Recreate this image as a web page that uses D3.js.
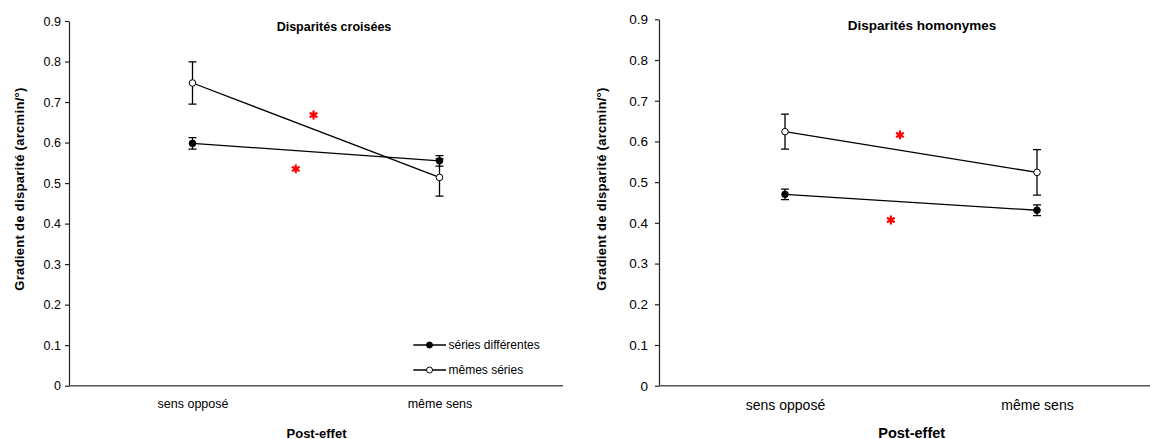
<!DOCTYPE html>
<html><head><meta charset="utf-8">
<script src="https://cdn.jsdelivr.net/npm/d3@7"></script>
<style>
body{margin:0;background:#fff}
svg{display:block}
text{font-family:"Liberation Sans",Arial,sans-serif;fill:#000}
</style>
</head><body>
<svg id="chart" width="1150" height="439"></svg>
<script>
// ---- data ----
const categories = ["sens opposé", "même sens"];
const yTickValues = [0, 0.1, 0.2, 0.3, 0.4, 0.5, 0.6, 0.7, 0.8, 0.9];
const yTickLabels = ["0", "0.1", "0.2", "0.3", "0.4", "0.5", "0.6", "0.7", "0.8", "0.9"];
const seriesNames = ["séries différentes", "mêmes séries"];
const panelTitles = ["Disparités croisées", "Disparités homonymes"];
const yAxisTitle = "Gradient de disparité (arcmin/°)";
const xAxisTitle = "Post-effet";

// Disparités croisées
const crossDiff = [0.598, 0.555];
const crossDiffErr = [0.014, 0.013];
const crossSame = [0.747, 0.514];
const crossSameErr = [0.052, 0.046];
const crossStarPos = [0.49, 0.418];   // position between the two categories (0..1)
const crossStarVal = [0.668, 0.535];

// Disparités homonymes
const homoDiff = [0.470, 0.431];
const homoDiffErr = [0.013, 0.013];
const homoSame = [0.624, 0.524];
const homoSameErr = [0.043, 0.056];
const homoStarPos = [0.456, 0.42];
const homoStarVal = [0.616, 0.407];

// ---- layout ----
const svg = d3.select("#chart");
const panels = [
  {title: panelTitles[0], diff: crossDiff, diffErr: crossDiffErr, same: crossSame, sameErr: crossSameErr,
   starPos: crossStarPos, starVal: crossStarVal,
   x0: 69, x1: 563, yTop: 21, yBottom: 385.7, tickFont: 12.5, catFont: 12.5, titleFont: 12.5,
   catPad: 13.7, titleX: 334, titleY: 31, yTitleX: 24, xTitleFont: 13, xTitleX: 316.5, legend: true},
  {title: panelTitles[1], diff: homoDiff, diffErr: homoDiffErr, same: homoSame, sameErr: homoSameErr,
   starPos: homoStarPos, starVal: homoStarVal,
   x0: 659, x1: 1163, yTop: 19.3, yBottom: 385.7, tickFont: 13.5, catFont: 14, titleFont: 13.5,
   catPad: 14.5, titleX: 922, titleY: 30, yTitleX: 606, xTitleFont: 14.5, xTitleX: 911.7, legend: false}
];

panels.forEach(p => {
  const g = svg.append("g");
  const x = d3.scalePoint().domain(categories).range([p.x0, p.x1]).padding(0.5);
  const xBetween = d3.scaleLinear().domain([0, 1]).range([x(categories[0]), x(categories[1])]);
  const y = d3.scaleLinear().domain([0, 0.9]).range([p.yBottom, p.yTop]);

  // y axis
  const ya = g.append("g").attr("transform", `translate(${p.x0},0)`)
    .call(d3.axisLeft(y).tickValues(yTickValues).tickFormat((d, i) => yTickLabels[i])
      .tickSizeInner(4).tickSizeOuter(0).tickPadding(p.x0 > 600 ? 7 : 4));
  ya.select(".domain").attr("stroke", "#222").attr("stroke-width", 1.2);
  ya.selectAll(".tick line").attr("stroke", "#222").attr("stroke-width", 1.2);
  ya.selectAll(".tick text").attr("font-size", p.tickFont).attr("fill", "#222")
    .style("font-family", "'Liberation Sans',Arial,sans-serif");

  // x axis
  const xa = g.append("g").attr("transform", `translate(0,${p.yBottom})`)
    .call(d3.axisBottom(x).tickSize(0).tickPadding(p.catPad));
  xa.select(".domain").attr("d", `M${p.x0},0H${p.x1}`).attr("stroke", "#555").attr("stroke-width", 1.5);
  xa.selectAll(".tick text").attr("font-size", p.catFont).attr("fill", "#111")
    .style("font-family", "'Liberation Sans',Arial,sans-serif");

  // titles
  g.append("text").attr("x", p.titleX).attr("y", p.titleY).attr("text-anchor", "middle")
    .attr("font-size", p.titleFont).attr("font-weight", "bold").text(p.title);
  g.append("text").attr("transform", `translate(${p.yTitleX},189) rotate(-90)`)
    .attr("text-anchor", "middle").attr("font-size", 13).attr("font-weight", "bold")
    .attr("letter-spacing", 0.3).text(yAxisTitle);
  g.append("text").attr("x", p.xTitleX).attr("y", 437.5).attr("text-anchor", "middle")
    .attr("font-size", p.xTitleFont).attr("font-weight", "bold").text(xAxisTitle);

  // series
  const series = [
    {vals: p.diff, errs: p.diffErr, fill: "#000"},
    {vals: p.same, errs: p.sameErr, fill: "#fff"}
  ];
  series.forEach(s => {
    const pts = categories.map((c, i) => ({c, v: s.vals[i], e: s.errs[i]}));
    // error bars
    pts.forEach(d => {
      const cx = x(d.c);
      g.append("path")
        .attr("d", `M${cx},${y(d.v + d.e)}V${y(d.v - d.e)}M${cx - 4},${y(d.v + d.e)}H${cx + 4}M${cx - 4},${y(d.v - d.e)}H${cx + 4}`)
        .attr("stroke", "#000").attr("stroke-width", 1.3).attr("fill", "none");
    });
    g.append("path").datum(pts)
      .attr("d", d3.line().x(d => x(d.c)).y(d => y(d.v)))
      .attr("stroke", "#000").attr("stroke-width", 1.3).attr("fill", "none");
    g.selectAll(null).data(pts).enter().append("circle")
      .attr("cx", d => x(d.c)).attr("cy", d => y(d.v)).attr("r", 3.3)
      .attr("fill", s.fill).attr("stroke", "#000").attr("stroke-width", 1);
  });

  // significance stars
  const star = d3.symbol().type(d3.symbolAsterisk).size(55);
  p.starPos.forEach((sp, i) => {
    g.append("path").attr("d", star)
      .attr("transform", `translate(${xBetween(sp)},${y(p.starVal[i])})`)
      .attr("stroke", "#ff0000").attr("stroke-width", 2.2).attr("fill", "none");
  });

  // legend
  if (p.legend) {
    const lx0 = 413.3, lx1 = 446, lxm = 429.5;
    const rows = [{name: seriesNames[0], fill: "#000", yy: 345}, {name: seriesNames[1], fill: "#fff", yy: 370}];
    rows.forEach(r => {
      g.append("line").attr("x1", lx0).attr("x2", lx1).attr("y1", r.yy).attr("y2", r.yy)
        .attr("stroke", "#000").attr("stroke-width", 1.3);
      g.append("circle").attr("cx", lxm).attr("cy", r.yy).attr("r", 3)
        .attr("fill", r.fill).attr("stroke", "#000").attr("stroke-width", 1);
      g.append("text").attr("x", 448.5).attr("y", r.yy + 4.3).attr("font-size", 12)
        .attr("fill", "#111").text(r.name);
    });
  }
});
</script>
</body></html>
